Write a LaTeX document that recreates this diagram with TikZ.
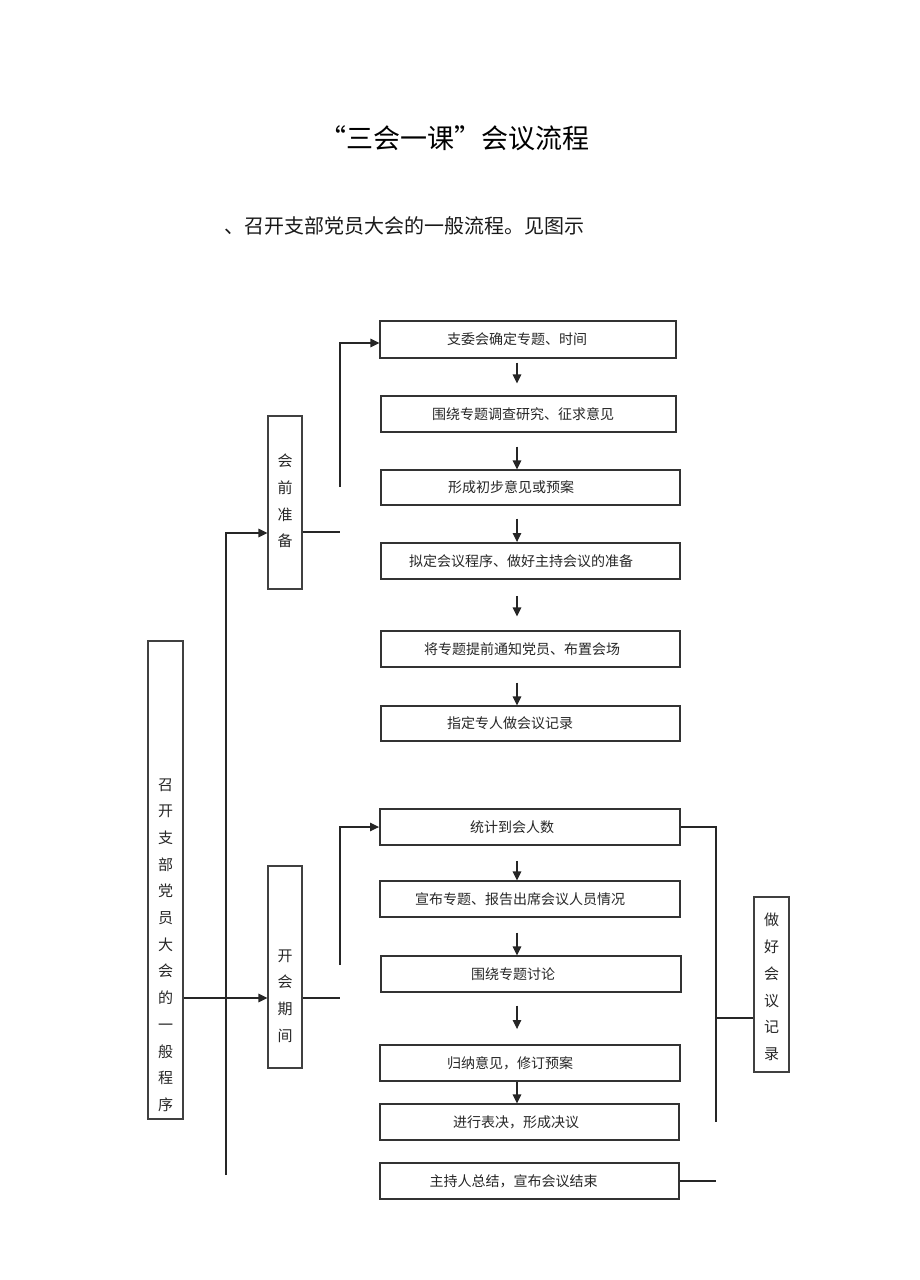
\documentclass[tikz,border=0pt]{standalone}
\usepackage{fontspec}
\setmainfont{Noto Sans CJK SC}
\usetikzlibrary{arrows.meta,calc}
\begin{document}
\begin{tikzpicture}[x=1pt,y=-1pt,
  line/.style={draw=black!85, line width=1.2pt},
  arr/.style={line, -{Triangle[length=9pt,width=8.5pt]}},
  mbox/.style={draw=black!80, line width=1.1pt, inner sep=0pt, text=black!85,
    font=\fontsize{14}{16}\selectfont},
  thick box/.style={line width=1.9pt},
  tx/.style={execute at begin node={\hspace*{#1pt}}},
  sbox/.style={draw=black!75, line width=1.1pt, inner sep=0pt},
  vtext/.style={align=center, text=black!85, inner sep=0pt, font=\fontsize{15}{26.7}\selectfont}
]
\path[use as bounding box] (0,0) rectangle (920,1280);

% titles
\node[font=\fontsize{27}{30}\selectfont] (title) at (454,138) {“三会一课”会议流程};
\node[font=\fontsize{20}{24}\selectfont, text=black!90] (sub) at (404.5,226) {、召开支部党员大会的一般流程。见图示};

% main column boxes
\node[mbox, minimum width=296, minimum height=37, tx=-22] (b1) at (528,339.5) {支委会确定专题、时间};
\node[mbox, minimum width=295, minimum height=36, tx=-11] (b2) at (528.5,414) {围绕专题调查研究、征求意见};
\node[mbox, minimum width=299, minimum height=35, tx=-39] (b3) at (530.5,487.5) {形成初步意见或预案};
\node[mbox, thick box, minimum width=299, minimum height=36, tx=-19] (b4) at (530.5,561) {拟定会议程序、做好主持会议的准备};
\node[mbox, minimum width=299, minimum height=36, tx=-17] (b5) at (530.5,649) {将专题提前通知党员、布置会场};
\node[mbox, minimum width=299, minimum height=35, tx=-41] (b6) at (530.5,723.5) {指定专人做会议记录};
\node[mbox, thick box, minimum width=300, minimum height=36, tx=-36] (b7) at (530,827) {统计到会人数};
\node[mbox, minimum width=300, minimum height=36, tx=-20] (b8) at (530,899) {宣布专题、报告出席会议人员情况};
\node[mbox, minimum width=300, minimum height=36, tx=-36] (b9) at (531,974) {围绕专题讨论};
\node[mbox, thick box, minimum width=300, minimum height=36, tx=-40] (b10) at (530,1063) {归纳意见，修订预案};
\node[mbox, minimum width=299, minimum height=36, tx=-27] (b11) at (529.5,1122) {进行表决，形成决议};
\node[mbox, minimum width=299, minimum height=36, tx=-32] (b12) at (529.5,1181) {主持人总结，宣布会议结束};

% side boxes
\node[sbox, minimum width=35, minimum height=478] (zk) at (165.5,880) {};
\node[vtext] (zkt) at (165.5,945) {召\\开\\支\\部\\党\\员\\大\\会\\的\\一\\般\\程\\序};
\node[sbox, minimum width=34, minimum height=173] (hq) at (285,502.5) {};
\node[vtext] (hqt) at (285,501) {会\\前\\准\\备};
\node[sbox, minimum width=34, minimum height=202] (kh) at (285,967) {};
\node[vtext] (kht) at (285,996) {开\\会\\期\\间};
\node[sbox, minimum width=35, minimum height=175] (jl) at (771.5,984.5) {};
\node[vtext] (jlt) at (771.5,987) {做\\好\\会\\议\\记\\录};

% vertical arrows in main column
\coordinate (ax) at (517,0);
\draw[arr, shorten <=4pt, shorten >=12pt] (b1.south -| ax) -- (b2.north -| ax);
\draw[arr, shorten <=14pt] (b2.south -| ax) -- (b3.north -| ax);
\draw[arr, shorten <=13pt] (b3.south -| ax) -- (b4.north -| ax);
\draw[arr, shorten <=16pt, shorten >=14pt] (b4.south -| ax) -- (b5.north -| ax);
\draw[arr, shorten <=15pt] (b5.south -| ax) -- (b6.north -| ax);
\draw[arr, shorten <=15pt] (b7.south -| ax) -- (b8.north -| ax);
\draw[arr, shorten <=15pt] (b8.south -| ax) -- (b9.north -| ax);
\draw[arr, shorten <=13pt, shorten >=15pt] (b9.south -| ax) -- (b10.north -| ax);
\draw[arr] (b10.south -| ax) -- (b11.north -| ax);

% trunk on the left
\coordinate (tT) at (226,533);
\coordinate (tB) at (226,1175);
\draw[arr] (tB) -- (tT) -- (hq.west |- tT);
\coordinate (yk) at (0,998);
\draw[arr] (zk.east |- yk) -- (kh.west |- yk);

% from 会前准备
\coordinate (h1) at (340,532);
\draw[line] (hq.east |- h1) -- (h1);
\coordinate (h2) at (340,487);
\coordinate (h3) at (340,343);
\draw[arr] (h2) -- (h3) -- (b1.west |- h3);

% from 开会期间
\coordinate (k1) at (340,998);
\draw[line] (kh.east |- k1) -- (k1);
\coordinate (k2) at (340,965);
\draw[arr] (k2) -- (k2 |- b7.west) -- (b7.west);

% right side: 做好会议记录
\coordinate (r1) at (716,0);
\coordinate (r2) at (716,1122);
\draw[line] (b7.east) -- (b7.east -| r1) -- (r2);
\coordinate (j1) at (716,1018);
\draw[line] (j1) -- (jl.west |- j1);
\draw[line] (b12.east) -- (b12.east -| r1);
\end{tikzpicture}
\end{document}
